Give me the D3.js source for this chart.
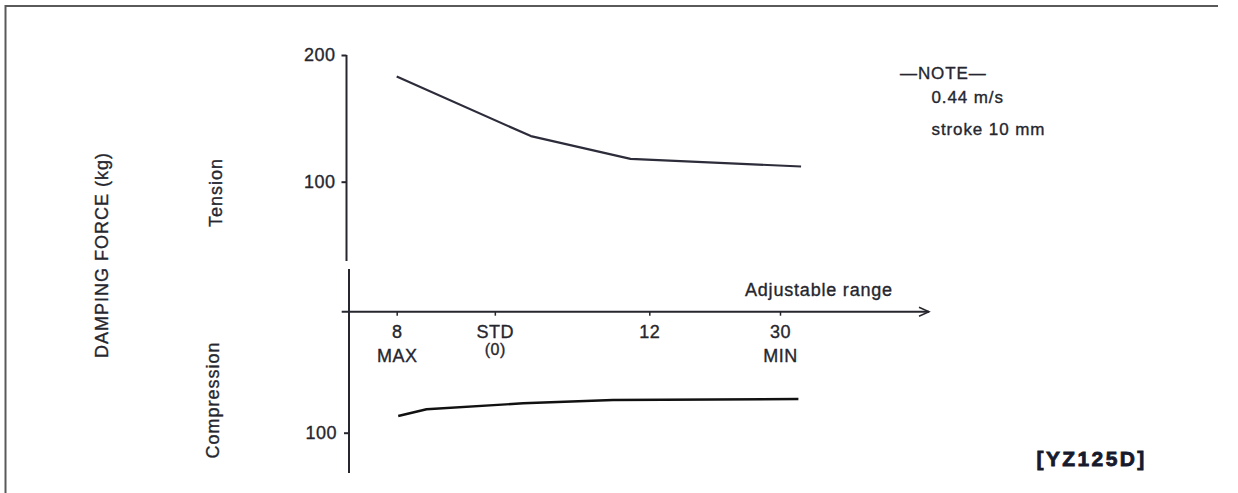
<!DOCTYPE html>
<html>
<head>
<meta charset="utf-8">
<script src="https://cdn.jsdelivr.net/npm/d3@7"></script>
<style>
  html, body { margin: 0; padding: 0; background: #fff; }
  svg { display: block; }
  svg text { stroke: #26262e; stroke-width: 0.35px; }
</style>
</head>
<body>
<div id="chart"></div>
<script>
// adjuster positions along the range, MAX = 0 ... MIN = 100
const tickLabels = ["8", "STD", "12", "30"];
const tickSubLabels = ["MAX", "(0)", "", "MIN"];
const tickPos = [0, 25.6, 65.9, 100];

const tensionX = [0, 35, 61, 105.5];
const tensionY = [183, 136, 118, 112];

const compressionX = [0.4, 7.8, 33, 56.4, 104.8];
const compressionY = [86.8, 81.5, 76.8, 74.2, 73.4];

const noteLines = ["\u2014NOTE\u2014", "0.44 m/s", "stroke 10 mm"];

const width = 1238;
const height = 493;
const ink = "#26262e";
const font = "'Liberation Sans', Arial, Helvetica, sans-serif";

const svg = d3.select("#chart")
    .append("svg")
    .attr("width", width)
    .attr("height", height)
    .attr("font-family", font)
    .attr("fill", ink);

// frame (top + left edge of the scanned page)
svg.append("path")
    .attr("d", "M5.5,493 V6 H1218")
    .attr("fill", "none")
    .attr("stroke", "#5a5a5a")
    .attr("stroke-width", 2);

const x = d3.scaleLinear().domain([0, 100]).range([396.7, 780]);
const yT = d3.scaleLinear().domain([100, 200]).range([181.7, 55]);
const yC = d3.scaleLinear().domain([0, 100]).range([306, 432.7]);

const axisY = 311.7;
const upperX = 346.5;
const lowerX = 349;

// tension axis
const gT = svg.append("g")
    .attr("transform", `translate(${upperX},0)`)
    .call(d3.axisLeft(yT).tickValues([100, 200]).tickSize(5).tickPadding(6).tickSizeOuter(0));
gT.select(".domain").remove();
gT.append("line")
    .attr("y1", yT(200)).attr("y2", 261)
    .attr("stroke", ink).attr("stroke-width", 2);

// compression axis
const gC = svg.append("g")
    .attr("transform", `translate(${lowerX},0)`)
    .call(d3.axisLeft(yC).tickValues([100]).tickSize(5).tickPadding(7).tickSizeOuter(0));
gC.select(".domain").remove();
gC.append("line")
    .attr("y1", 269).attr("y2", 473)
    .attr("stroke", ink).attr("stroke-width", 2);

[gT, gC].forEach(g => {
    g.selectAll(".tick line").attr("stroke", ink).attr("stroke-width", 2);
    g.selectAll(".tick text")
        .attr("fill", ink)
        .attr("font-size", 18)
        .attr("font-family", font)
        .attr("letter-spacing", 0.5);
});

// adjustable range axis
const gX = svg.append("g")
    .attr("transform", `translate(0,${axisY})`)
    .call(d3.axisBottom(x).tickValues(tickPos).tickSize(4).tickFormat(""));
gX.select(".domain").remove();
gX.selectAll(".tick line").attr("stroke", ink).attr("stroke-width", 1.5);
gX.append("line")
    .attr("x1", 341.7).attr("x2", 929)
    .attr("stroke", ink).attr("stroke-width", 2);
gX.append("path")
    .attr("d", "M919,-4.5 L929,0 L919,4.5")
    .attr("fill", "none")
    .attr("stroke", ink)
    .attr("stroke-width", 1.5);

const tickText = gX.selectAll(".tick");
tickText.append("text")
    .attr("y", 338 - axisY)
    .attr("text-anchor", "middle")
    .attr("font-size", 18)
    .attr("letter-spacing", 0.5)
    .attr("fill", ink)
    .text((d, i) => tickLabels[i]);
tickText.append("text")
    .attr("y", (d, i) => (tickSubLabels[i] === "(0)" ? 355 : 362) - axisY)
    .attr("text-anchor", "middle")
    .attr("font-size", (d, i) => tickSubLabels[i] === "(0)" ? 16 : 18)
    .attr("letter-spacing", 0.5)
    .attr("fill", ink)
    .text((d, i) => tickSubLabels[i]);

svg.append("text")
    .attr("x", 745)
    .attr("y", 296)
    .attr("font-size", 18)
    .attr("letter-spacing", 0.8)
    .text("Adjustable range");

// curves
const tension = tensionX.map((v, i) => [v, tensionY[i]]);
const compression = compressionX.map((v, i) => [v, compressionY[i]]);

svg.append("path")
    .datum(tension)
    .attr("fill", "none")
    .attr("stroke", "#2c2c3a")
    .attr("stroke-width", 2.2)
    .attr("stroke-linejoin", "round")
    .attr("d", d3.line().x(d => x(d[0])).y(d => yT(d[1])));

svg.append("path")
    .datum(compression)
    .attr("fill", "none")
    .attr("stroke", "#111")
    .attr("stroke-width", 2.4)
    .attr("stroke-linejoin", "round")
    .attr("d", d3.line().x(d => x(d[0])).y(d => yC(d[1])));

// rotated labels
const rotated = [
    { text: "DAMPING FORCE (kg)", x: 108, y: 255 },
    { text: "Tension", x: 221.5, y: 192.5 },
    { text: "Compression", x: 219, y: 400 }
];
svg.selectAll(".rot")
    .data(rotated)
    .join("text")
    .attr("class", "rot")
    .attr("transform", d => `translate(${d.x},${d.y}) rotate(-90)`)
    .attr("text-anchor", "middle")
    .attr("font-size", 18)
    .attr("letter-spacing", 1)
    .text(d => d.text);

// note
svg.selectAll(".note")
    .data(noteLines)
    .join("text")
    .attr("class", "note")
    .attr("x", (d, i) => i === 0 ? 900 : 931.5)
    .attr("y", (d, i) => [78.5, 103, 135][i])
    .attr("font-size", 17)
    .attr("letter-spacing", 0.9)
    .text(d => d);

svg.append("text")
    .attr("x", 1036.5)
    .attr("y", 466)
    .attr("font-size", 21)
    .attr("font-weight", "bold")
    .attr("letter-spacing", 2.4)
    .attr("fill", "#161a2c")
    .style("stroke", "#161a2c")
    .style("stroke-width", "0.8px")
    .text("[YZ125D]");
</script>
</body>
</html>
